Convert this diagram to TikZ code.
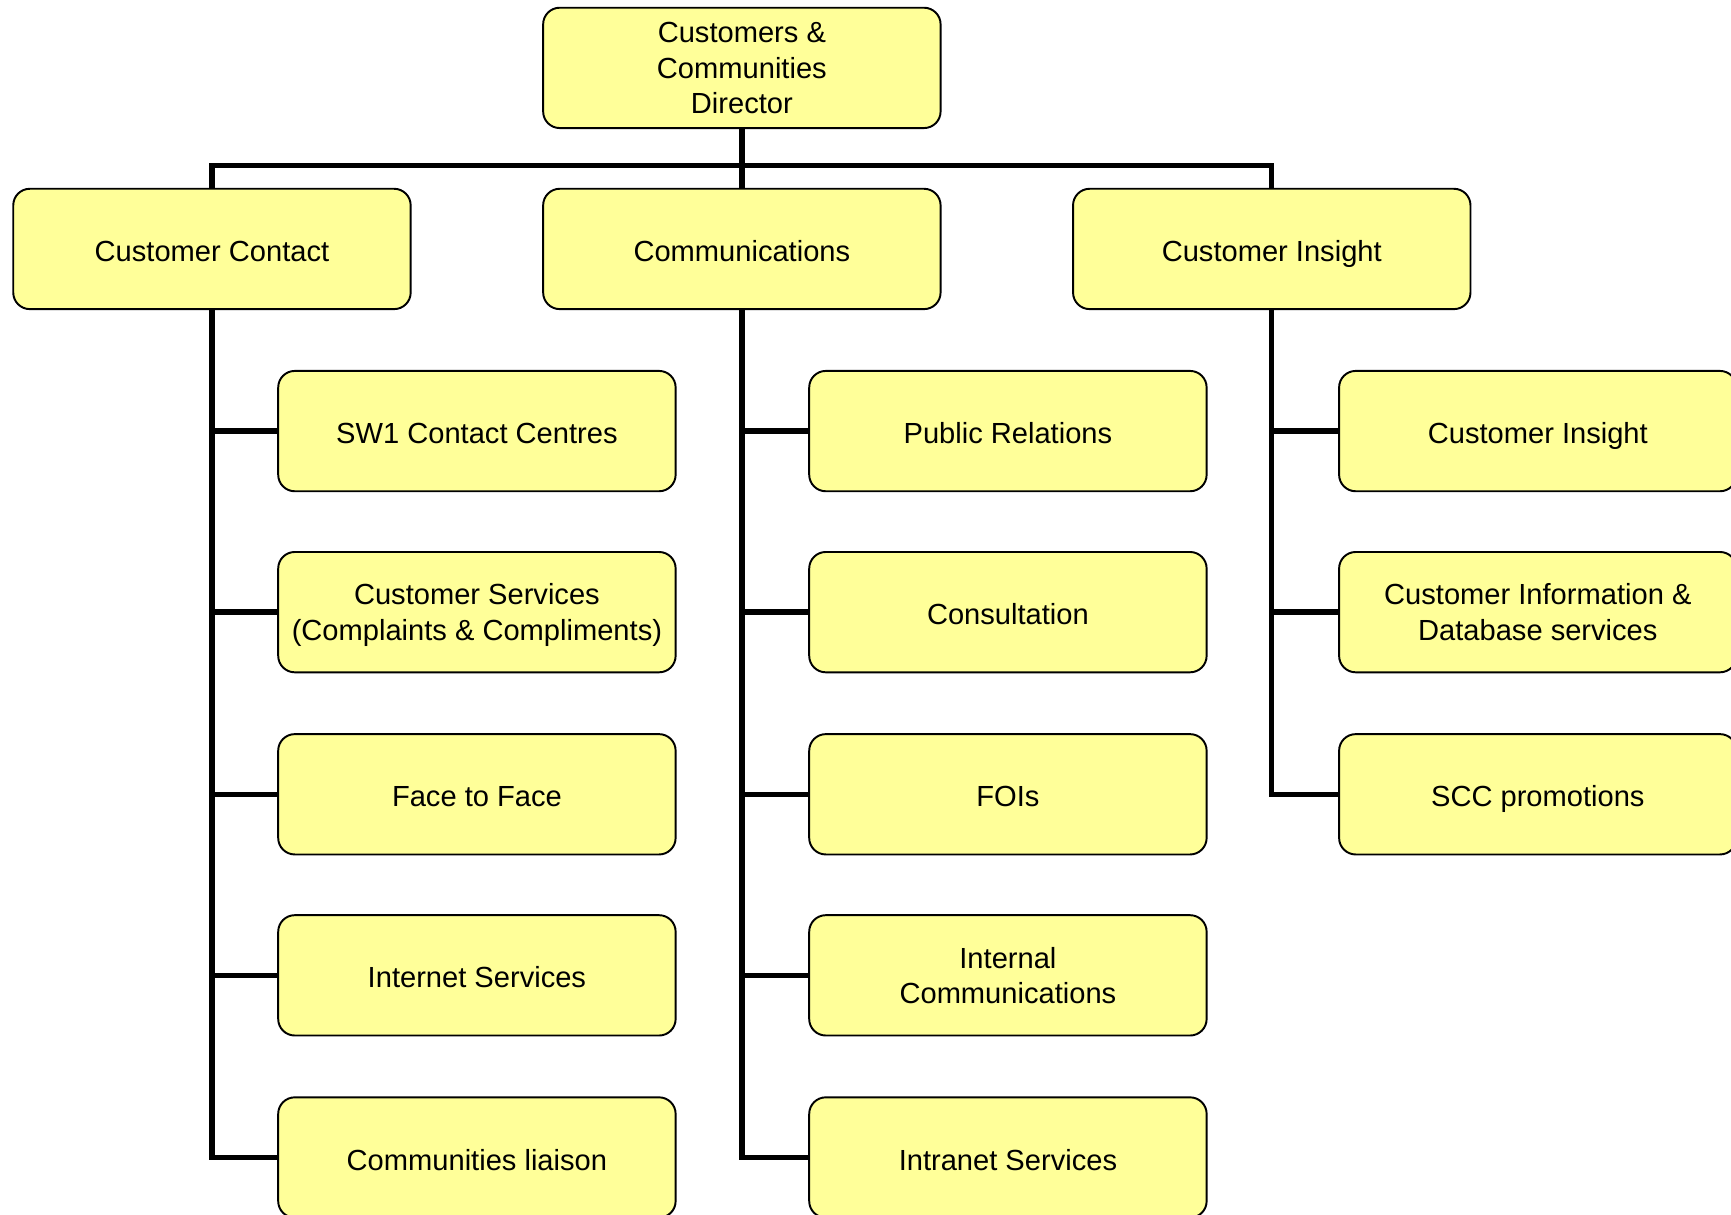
\documentclass[tikz,border=0pt]{standalone}
\usepackage{fontspec}
\setmainfont{Liberation Sans}
\definecolor{boxyellow}{HTML}{FFFF99}

\begin{document}
\begin{tikzpicture}[
  unit/.style={draw=black, line width=0.5pt, fill=boxyellow, rounded corners=0.15cm,
    minimum width=3.6cm, minimum height=1.09cm, align=center, inner sep=0pt,
    font=\fontsize{7.5}{9.2}\selectfont,
    execute at begin node=\rule{0pt}{9.2pt}, execute at end node=\strut},
  tall/.style={text depth=0pt},
  link/.style={line width=1.4pt}]

\useasboundingbox (0,0) rectangle (15.68,-11.00);

% Director and the three divisions

\node[unit,tall] (dir) at (6.72,-0.615) {Customers \&\\Communities\\Director};

\node[unit] (cc) at (1.92,-2.255) {Customer Contact};
\node[unit] (comm) at (6.72,-2.255) {Communications};
\node[unit] (ci) at (11.52,-2.255) {Customer Insight};

\coordinate (bar) at (6.72,-1.50);
\draw[link] (cc.north) |- (bar) -| (ci.north);
\draw[link] (dir.south) -- (comm.north);

% Teams under Customer Contact

\node[unit] (cc1) at (4.32,-3.905) {SW1 Contact Centres};
\node[unit,tall] (cc2) at (4.32,-5.545) {Customer Services\\(Complaints \& Compliments)};
\node[unit] (cc3) at (4.32,-7.195) {Face to Face};
\node[unit] (cc4) at (4.32,-8.835) {Internet Services};
\node[unit] (cc5) at (4.32,-10.485) {Communities liaison};

 \draw[link] (cc.south) |- (cc5.west);
 \draw[link] (cc.south |- cc1.west) -- (cc1.west);
 \draw[link] (cc.south |- cc2.west) -- (cc2.west);
 \draw[link] (cc.south |- cc3.west) -- (cc3.west);
 \draw[link] (cc.south |- cc4.west) -- (cc4.west);

% Teams under Communications

\node[unit] (comm1) at (9.13,-3.905) {Public Relations};
\node[unit] (comm2) at (9.13,-5.545) {Consultation};
\node[unit] (comm3) at (9.13,-7.195) {FOIs};
\node[unit,tall] (comm4) at (9.13,-8.835) {Internal\\Communications};
\node[unit] (comm5) at (9.13,-10.485) {Intranet Services};

 \draw[link] (comm.south) |- (comm5.west);
 \draw[link] (comm.south |- comm1.west) -- (comm1.west);
 \draw[link] (comm.south |- comm2.west) -- (comm2.west);
 \draw[link] (comm.south |- comm3.west) -- (comm3.west);
 \draw[link] (comm.south |- comm4.west) -- (comm4.west);

% Teams under Customer Insight

\node[unit] (ci1) at (13.93,-3.905) {Customer Insight};
\node[unit,tall] (ci2) at (13.93,-5.545) {Customer Information \&\\Database services};
\node[unit] (ci3) at (13.93,-7.195) {SCC promotions};

 \draw[link] (ci.south) |- (ci3.west);
 \draw[link] (ci.south |- ci1.west) -- (ci1.west);
 \draw[link] (ci.south |- ci2.west) -- (ci2.west);

\end{tikzpicture}
\end{document}
